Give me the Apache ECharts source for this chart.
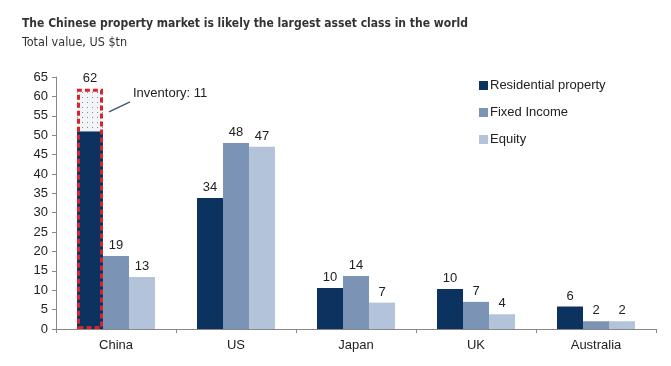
<!DOCTYPE html>
<html><head><meta charset="utf-8">
<script src="https://cdn.jsdelivr.net/npm/echarts@6/dist/echarts.min.js"></script>
<style>html,body{margin:0;padding:0;background:#fff}#c{width:671px;height:366px}</style>
</head><body><div id="c"></div>
<script>
const categories = ['China', 'US', 'Japan', 'UK', 'Australia'];
const residential = [51, 33.8, 10.6, 10.3, 5.8];
const inventory = [11, '-', '-', '-', '-'];
const fixedIncome = [18.8, 48, 13.7, 7, 2];
const equity = [13.4, 47, 6.8, 3.8, 2];
const residentialLabels = ['', '34', '10', '10', '6'];
const inventoryLabels = ['62'];
const fixedLabels = ['19', '48', '14', '7', '2'];
const equityLabels = ['13', '47', '7', '4', '2'];
const outline = [62, '-', '-', '-', '-'];
const annotationText = 'Inventory: 11';
const yTicks = [0, 65, 5];

const pat = document.createElement('canvas');
pat.width = 5; pat.height = 5;
const pc = pat.getContext('2d');
pc.fillStyle = '#f3f4f7'; pc.fillRect(0, 0, 5, 5);
pc.fillStyle = '#7d8ca6'; pc.fillRect(2, 2, 1, 1);

const FONT = 'Liberation Sans';
const COND = "'Liberation Sans Narrow', 'DejaVu Sans Condensed', 'Roboto'";
const lbl = (arr) => ({show: true, position: 'top', distance: 4, color: '#222', fontSize: 13,
  fontFamily: FONT, formatter: p => arr[p.dataIndex]});

const chart = echarts.init(document.getElementById('c'));
chart.setOption({
  animation: false,
  title: {text: 'The Chinese property market is likely the largest asset class in the world',
    subtext: 'Total value, US $tn', left: 17, top: 13, itemGap: 6,
    textStyle: {fontFamily: COND, fontWeight: 'bold', fontSize: 12, color: '#333'},
    subtextStyle: {fontFamily: COND, fontSize: 12.5, color: '#333'}},
  legend: {orient: 'vertical', left: 474, top: 74, itemGap: 14, itemWidth: 9, itemHeight: 9,
    icon: 'rect', data: ['Residential property', 'Fixed Income', 'Equity'],
    textStyle: {fontFamily: FONT, fontSize: 13, color: '#222', padding: [0, 0, 0, -3]}},
  grid: {left: 56, right: 15, top: 77, bottom: 37},
  xAxis: [{type: 'category', data: categories,
    axisLine: {lineStyle: {color: '#888'}}, axisTick: {show: true, length: 4, lineStyle: {color: '#888'}},
    axisLabel: {color: '#222', fontSize: 13, fontFamily: FONT, margin: 10}},
    {type: 'category', data: categories, show: false}],
  yAxis: {type: 'value', min: yTicks[0], max: yTicks[1], interval: yTicks[2],
    splitLine: {show: false},
    axisLine: {show: true, lineStyle: {color: '#888'}},
    axisTick: {show: true, length: 4, lineStyle: {color: '#888'}},
    axisLabel: {color: '#222', fontSize: 13, fontFamily: FONT, margin: 8}},
  series: [
    {name: 'Residential property', type: 'bar', stack: 'res', data: residential, barGap: '0%', barCategoryGap: '35%',
      itemStyle: {color: '#0c3260'}, label: lbl(residentialLabels)},
    {name: 'Inventory', type: 'bar', stack: 'res', data: inventory,
      itemStyle: {color: {image: pat, repeat: 'repeat'}},
      label: {show: true, position: 'top', distance: 4, color: '#222', fontSize: 13, fontFamily: FONT,
        formatter: p => inventoryLabels[p.dataIndex] || ''}},
    {name: 'Fixed Income', type: 'bar', data: fixedIncome, itemStyle: {color: '#7b93b5'}, label: lbl(fixedLabels)},
    {name: 'Equity', type: 'bar', data: equity, itemStyle: {color: '#b3c3da'}, label: lbl(equityLabels)},
    {name: 'outline', type: 'bar', xAxisIndex: 1, data: outline, barGap: '0%', barCategoryGap: '35%', z: 5,
      itemStyle: {color: 'rgba(0,0,0,0)', borderColor: '#d9232a', borderWidth: 3, borderType: [5, 3]}},
    {name: 'p1', type: 'bar', xAxisIndex: 1, data: ['-', '-', '-', '-', '-']},
    {name: 'p2', type: 'bar', xAxisIndex: 1, data: ['-', '-', '-', '-', '-']}
  ]
});

// leader line + annotation positioned from the library's own layout
const s = chart.getModel().getSeriesByName('outline')[0];
const lay = s.getData().getItemLayout(0);
const right = lay.x + lay.width;
const yA = chart.convertToPixel({yAxisIndex: 0}, 56);
const yB = chart.convertToPixel({yAxisIndex: 0}, 58.6);
chart.setOption({graphic: [
  {type: 'line', shape: {x1: right + 6, y1: yA, x2: right + 27, y2: yB}, style: {stroke: '#3d5578', lineWidth: 1.3}, z: 10},
  {type: 'text', x: right + 30, y: yB - 15, style: {text: annotationText, font: '13px ' + FONT, fill: '#222'}, z: 10}
]});
</script></body></html>
